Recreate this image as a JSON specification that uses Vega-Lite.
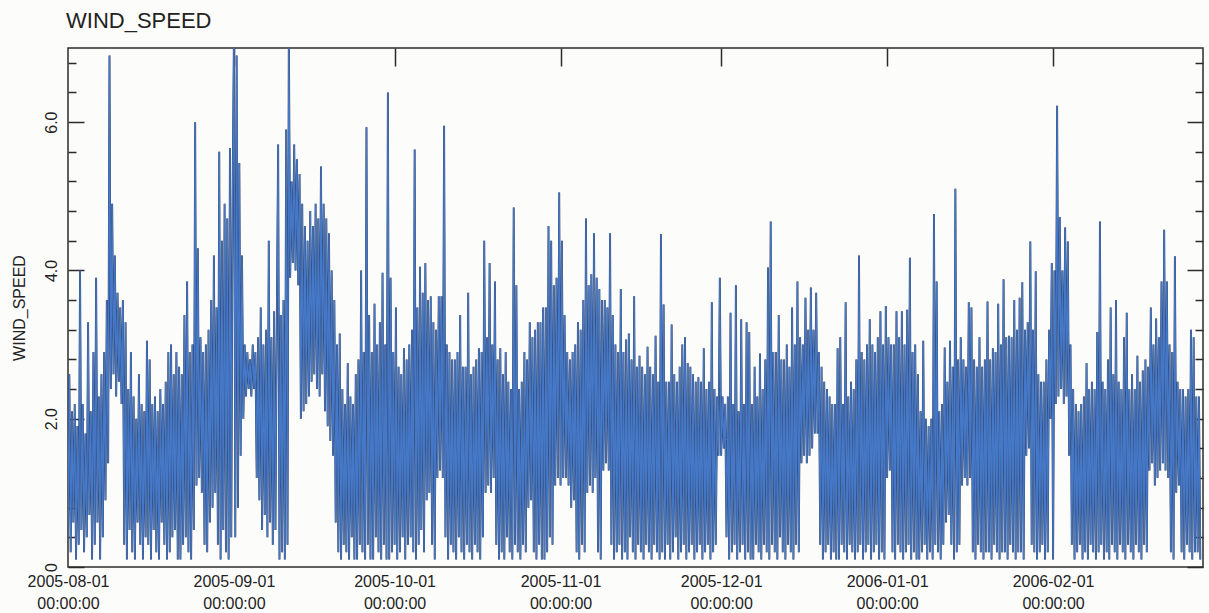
{
"$schema":"https://vega.github.io/schema/vega-lite/v6.json",
"width":1135,"height":519,
"autosize":{"type":"none"},
"padding":{"left":68,"top":48,"right":6,"bottom":46},
"background":"#fcfcfb",
"config":{"font":"Liberation Sans","view":{"stroke":"#2b2b2b","strokeWidth":1.5},"axis":{"domain":false,"grid":false}},
"title":{"text":"WIND_SPEED","anchor":"start","frame":"group","fontSize":22,"fontWeight":"normal","color":"#222222","offset":14,"dx":-2},
"data":{"format":{"parse":{"t":"date:'%Y-%m-%d %H'"}},"values":[
{"t":"2005-08-01 00","v":0.4},{"t":"2005-08-01 06","v":2.6},{"t":"2005-08-01 12","v":0.2},{"t":"2005-08-01 18","v":2.1},
{"t":"2005-08-02 00","v":0.6},{"t":"2005-08-02 06","v":2.2},{"t":"2005-08-02 12","v":0.1},{"t":"2005-08-02 18","v":1.9},
{"t":"2005-08-03 00","v":0.3},{"t":"2005-08-03 06","v":4.0},{"t":"2005-08-03 12","v":0.5},{"t":"2005-08-03 18","v":2.2},
{"t":"2005-08-04 00","v":0.2},{"t":"2005-08-04 06","v":1.8},{"t":"2005-08-04 12","v":0.4},{"t":"2005-08-04 18","v":3.3},
{"t":"2005-08-05 00","v":0.7},{"t":"2005-08-05 06","v":2.1},{"t":"2005-08-05 12","v":0.1},{"t":"2005-08-05 18","v":2.9},
{"t":"2005-08-06 00","v":0.3},{"t":"2005-08-06 06","v":3.9},{"t":"2005-08-06 12","v":0.6},{"t":"2005-08-06 18","v":2.3},
{"t":"2005-08-07 00","v":0.1},{"t":"2005-08-07 06","v":2.6},{"t":"2005-08-07 12","v":0.4},{"t":"2005-08-07 18","v":2.9},
{"t":"2005-08-08 00","v":0.9},{"t":"2005-08-08 06","v":3.6},{"t":"2005-08-08 12","v":1.4},{"t":"2005-08-08 18","v":6.9},
{"t":"2005-08-09 00","v":2.4},{"t":"2005-08-09 06","v":4.9},{"t":"2005-08-09 12","v":2.6},{"t":"2005-08-09 18","v":4.2},
{"t":"2005-08-10 00","v":2.3},{"t":"2005-08-10 06","v":3.7},{"t":"2005-08-10 12","v":2.5},{"t":"2005-08-10 18","v":3.5},
{"t":"2005-08-11 00","v":2.2},{"t":"2005-08-11 06","v":3.6},{"t":"2005-08-11 12","v":0.3},{"t":"2005-08-11 18","v":3.3},
{"t":"2005-08-12 00","v":0.1},{"t":"2005-08-12 06","v":2.4},{"t":"2005-08-12 12","v":0.5},{"t":"2005-08-12 18","v":2.9},
{"t":"2005-08-13 00","v":0.2},{"t":"2005-08-13 06","v":2.3},{"t":"2005-08-13 12","v":0.1},{"t":"2005-08-13 18","v":2.0},
{"t":"2005-08-14 00","v":0.6},{"t":"2005-08-14 06","v":2.6},{"t":"2005-08-14 12","v":0.3},{"t":"2005-08-14 18","v":2.2},
{"t":"2005-08-15 00","v":0.1},{"t":"2005-08-15 06","v":2.1},{"t":"2005-08-15 12","v":0.4},{"t":"2005-08-15 18","v":3.05},
{"t":"2005-08-16 00","v":0.3},{"t":"2005-08-16 06","v":2.8},{"t":"2005-08-16 12","v":0.1},{"t":"2005-08-16 18","v":2.2},
{"t":"2005-08-17 00","v":0.5},{"t":"2005-08-17 06","v":2.3},{"t":"2005-08-17 12","v":0.2},{"t":"2005-08-17 18","v":2.1},
{"t":"2005-08-18 00","v":0.1},{"t":"2005-08-18 06","v":2.4},{"t":"2005-08-18 12","v":0.6},{"t":"2005-08-18 18","v":2.2},
{"t":"2005-08-19 00","v":0.3},{"t":"2005-08-19 06","v":2.5},{"t":"2005-08-19 12","v":0.1},{"t":"2005-08-19 18","v":2.9},
{"t":"2005-08-20 00","v":0.2},{"t":"2005-08-20 06","v":3.0},{"t":"2005-08-20 12","v":0.4},{"t":"2005-08-20 18","v":2.6},
{"t":"2005-08-21 00","v":0.5},{"t":"2005-08-21 06","v":2.9},{"t":"2005-08-21 12","v":0.1},{"t":"2005-08-21 18","v":2.7},
{"t":"2005-08-22 00","v":0.1},{"t":"2005-08-22 06","v":2.6},{"t":"2005-08-22 12","v":0.3},{"t":"2005-08-22 18","v":3.4},
{"t":"2005-08-23 00","v":0.4},{"t":"2005-08-23 06","v":3.85},{"t":"2005-08-23 12","v":0.2},{"t":"2005-08-23 18","v":2.9},
{"t":"2005-08-24 00","v":0.1},{"t":"2005-08-24 06","v":3.0},{"t":"2005-08-24 12","v":0.5},{"t":"2005-08-24 18","v":6.0},
{"t":"2005-08-25 00","v":1.1},{"t":"2005-08-25 06","v":4.3},{"t":"2005-08-25 12","v":1.2},{"t":"2005-08-25 18","v":3.1},
{"t":"2005-08-26 00","v":1.0},{"t":"2005-08-26 06","v":2.9},{"t":"2005-08-26 12","v":0.3},{"t":"2005-08-26 18","v":3.0},
{"t":"2005-08-27 00","v":0.2},{"t":"2005-08-27 06","v":3.2},{"t":"2005-08-27 12","v":0.6},{"t":"2005-08-27 18","v":3.6},
{"t":"2005-08-28 00","v":0.8},{"t":"2005-08-28 06","v":4.2},{"t":"2005-08-28 12","v":1.0},{"t":"2005-08-28 18","v":3.5},
{"t":"2005-08-29 00","v":0.3},{"t":"2005-08-29 06","v":5.6},{"t":"2005-08-29 12","v":0.1},{"t":"2005-08-29 18","v":4.4},
{"t":"2005-08-30 00","v":0.5},{"t":"2005-08-30 06","v":4.9},{"t":"2005-08-30 12","v":0.2},{"t":"2005-08-30 18","v":4.7},
{"t":"2005-08-31 00","v":0.1},{"t":"2005-08-31 06","v":5.65},{"t":"2005-08-31 12","v":0.4},{"t":"2005-08-31 18","v":5.1},
{"t":"2005-09-01 00","v":7.2},{"t":"2005-09-01 06","v":0.4},{"t":"2005-09-01 12","v":6.9},{"t":"2005-09-01 18","v":0.8},
{"t":"2005-09-02 00","v":5.45},{"t":"2005-09-02 06","v":1.5},{"t":"2005-09-02 12","v":4.2},{"t":"2005-09-02 18","v":2.0},
{"t":"2005-09-03 00","v":3.0},{"t":"2005-09-03 06","v":2.3},{"t":"2005-09-03 12","v":2.9},{"t":"2005-09-03 18","v":2.4},
{"t":"2005-09-04 00","v":2.8},{"t":"2005-09-04 06","v":2.3},{"t":"2005-09-04 12","v":3.0},{"t":"2005-09-04 18","v":2.4},
{"t":"2005-09-05 00","v":2.9},{"t":"2005-09-05 06","v":1.2},{"t":"2005-09-05 12","v":3.1},{"t":"2005-09-05 18","v":0.9},
{"t":"2005-09-06 00","v":3.5},{"t":"2005-09-06 06","v":0.5},{"t":"2005-09-06 12","v":3.0},{"t":"2005-09-06 18","v":0.7},
{"t":"2005-09-07 00","v":3.2},{"t":"2005-09-07 06","v":0.4},{"t":"2005-09-07 12","v":4.4},{"t":"2005-09-07 18","v":0.6},
{"t":"2005-09-08 00","v":3.1},{"t":"2005-09-08 06","v":0.3},{"t":"2005-09-08 12","v":3.45},{"t":"2005-09-08 18","v":0.5},
{"t":"2005-09-09 00","v":3.3},{"t":"2005-09-09 06","v":5.7},{"t":"2005-09-09 12","v":0.1},{"t":"2005-09-09 18","v":3.4},
{"t":"2005-09-10 00","v":0.2},{"t":"2005-09-10 06","v":3.6},{"t":"2005-09-10 12","v":0.1},{"t":"2005-09-10 18","v":5.9},
{"t":"2005-09-11 00","v":0.3},{"t":"2005-09-11 06","v":7.2},{"t":"2005-09-11 12","v":3.9},{"t":"2005-09-11 18","v":5.2},
{"t":"2005-09-12 00","v":4.1},{"t":"2005-09-12 06","v":5.7},{"t":"2005-09-12 12","v":4.0},{"t":"2005-09-12 18","v":5.5},
{"t":"2005-09-13 00","v":3.8},{"t":"2005-09-13 06","v":5.3},{"t":"2005-09-13 12","v":2.0},{"t":"2005-09-13 18","v":4.9},
{"t":"2005-09-14 00","v":2.1},{"t":"2005-09-14 06","v":4.6},{"t":"2005-09-14 12","v":2.2},{"t":"2005-09-14 18","v":4.4},
{"t":"2005-09-15 00","v":2.3},{"t":"2005-09-15 06","v":4.8},{"t":"2005-09-15 12","v":2.5},{"t":"2005-09-15 18","v":4.6},
{"t":"2005-09-16 00","v":2.6},{"t":"2005-09-16 06","v":4.9},{"t":"2005-09-16 12","v":2.4},{"t":"2005-09-16 18","v":4.7},
{"t":"2005-09-17 00","v":2.3},{"t":"2005-09-17 06","v":5.4},{"t":"2005-09-17 12","v":2.6},{"t":"2005-09-17 18","v":4.9},
{"t":"2005-09-18 00","v":2.1},{"t":"2005-09-18 06","v":4.7},{"t":"2005-09-18 12","v":1.9},{"t":"2005-09-18 18","v":4.5},
{"t":"2005-09-19 00","v":1.7},{"t":"2005-09-19 06","v":4.0},{"t":"2005-09-19 12","v":1.5},{"t":"2005-09-19 18","v":3.6},
{"t":"2005-09-20 00","v":0.6},{"t":"2005-09-20 06","v":3.0},{"t":"2005-09-20 12","v":0.2},{"t":"2005-09-20 18","v":3.15},
{"t":"2005-09-21 00","v":0.1},{"t":"2005-09-21 06","v":2.4},{"t":"2005-09-21 12","v":0.3},{"t":"2005-09-21 18","v":2.2},
{"t":"2005-09-22 00","v":0.2},{"t":"2005-09-22 06","v":2.75},{"t":"2005-09-22 12","v":0.1},{"t":"2005-09-22 18","v":2.3},
{"t":"2005-09-23 00","v":0.4},{"t":"2005-09-23 06","v":2.2},{"t":"2005-09-23 12","v":0.1},{"t":"2005-09-23 18","v":2.6},
{"t":"2005-09-24 00","v":0.1},{"t":"2005-09-24 06","v":2.8},{"t":"2005-09-24 12","v":0.3},{"t":"2005-09-24 18","v":4.0},
{"t":"2005-09-25 00","v":0.2},{"t":"2005-09-25 06","v":2.9},{"t":"2005-09-25 12","v":0.1},{"t":"2005-09-25 18","v":5.93},
{"t":"2005-09-26 00","v":0.3},{"t":"2005-09-26 06","v":3.4},{"t":"2005-09-26 12","v":0.1},{"t":"2005-09-26 18","v":2.9},
{"t":"2005-09-27 00","v":0.1},{"t":"2005-09-27 06","v":3.55},{"t":"2005-09-27 12","v":0.4},{"t":"2005-09-27 18","v":3.0},
{"t":"2005-09-28 00","v":0.2},{"t":"2005-09-28 06","v":3.3},{"t":"2005-09-28 12","v":0.1},{"t":"2005-09-28 18","v":3.97},
{"t":"2005-09-29 00","v":0.3},{"t":"2005-09-29 06","v":3.0},{"t":"2005-09-29 12","v":0.1},{"t":"2005-09-29 18","v":6.4},
{"t":"2005-09-30 00","v":0.1},{"t":"2005-09-30 06","v":3.9},{"t":"2005-09-30 12","v":0.2},{"t":"2005-09-30 18","v":2.9},
{"t":"2005-10-01 00","v":0.3},{"t":"2005-10-01 06","v":3.5},{"t":"2005-10-01 12","v":0.1},{"t":"2005-10-01 18","v":2.7},
{"t":"2005-10-02 00","v":0.2},{"t":"2005-10-02 06","v":2.6},{"t":"2005-10-02 12","v":0.4},{"t":"2005-10-02 18","v":2.95},
{"t":"2005-10-03 00","v":0.1},{"t":"2005-10-03 06","v":2.8},{"t":"2005-10-03 12","v":0.3},{"t":"2005-10-03 18","v":3.0},
{"t":"2005-10-04 00","v":0.4},{"t":"2005-10-04 06","v":3.2},{"t":"2005-10-04 12","v":0.2},{"t":"2005-10-04 18","v":5.63},
{"t":"2005-10-05 00","v":0.1},{"t":"2005-10-05 06","v":3.5},{"t":"2005-10-05 12","v":0.3},{"t":"2005-10-05 18","v":4.05},
{"t":"2005-10-06 00","v":0.5},{"t":"2005-10-06 06","v":3.7},{"t":"2005-10-06 12","v":0.2},{"t":"2005-10-06 18","v":4.1},
{"t":"2005-10-07 00","v":0.9},{"t":"2005-10-07 06","v":3.6},{"t":"2005-10-07 12","v":1.0},{"t":"2005-10-07 18","v":3.65},
{"t":"2005-10-08 00","v":0.3},{"t":"2005-10-08 06","v":3.3},{"t":"2005-10-08 12","v":0.1},{"t":"2005-10-08 18","v":3.2},
{"t":"2005-10-09 00","v":1.2},{"t":"2005-10-09 06","v":3.65},{"t":"2005-10-09 12","v":1.3},{"t":"2005-10-09 18","v":3.65},
{"t":"2005-10-10 00","v":1.2},{"t":"2005-10-10 06","v":5.95},{"t":"2005-10-10 12","v":0.4},{"t":"2005-10-10 18","v":3.0},
{"t":"2005-10-11 00","v":0.1},{"t":"2005-10-11 06","v":2.9},{"t":"2005-10-11 12","v":0.3},{"t":"2005-10-11 18","v":2.8},
{"t":"2005-10-12 00","v":0.2},{"t":"2005-10-12 06","v":2.8},{"t":"2005-10-12 12","v":0.1},{"t":"2005-10-12 18","v":2.9},
{"t":"2005-10-13 00","v":0.4},{"t":"2005-10-13 06","v":3.4},{"t":"2005-10-13 12","v":0.2},{"t":"2005-10-13 18","v":2.7},
{"t":"2005-10-14 00","v":0.1},{"t":"2005-10-14 06","v":2.7},{"t":"2005-10-14 12","v":0.3},{"t":"2005-10-14 18","v":3.7},
{"t":"2005-10-15 00","v":0.2},{"t":"2005-10-15 06","v":2.6},{"t":"2005-10-15 12","v":0.1},{"t":"2005-10-15 18","v":2.7},
{"t":"2005-10-16 00","v":0.3},{"t":"2005-10-16 06","v":2.8},{"t":"2005-10-16 12","v":0.2},{"t":"2005-10-16 18","v":2.95},
{"t":"2005-10-17 00","v":0.1},{"t":"2005-10-17 06","v":2.9},{"t":"2005-10-17 12","v":0.4},{"t":"2005-10-17 18","v":4.4},
{"t":"2005-10-18 00","v":1.0},{"t":"2005-10-18 06","v":3.1},{"t":"2005-10-18 12","v":1.1},{"t":"2005-10-18 18","v":4.1},
{"t":"2005-10-19 00","v":1.0},{"t":"2005-10-19 06","v":3.0},{"t":"2005-10-19 12","v":1.2},{"t":"2005-10-19 18","v":3.85},
{"t":"2005-10-20 00","v":0.3},{"t":"2005-10-20 06","v":2.8},{"t":"2005-10-20 12","v":0.1},{"t":"2005-10-20 18","v":2.95},
{"t":"2005-10-21 00","v":0.2},{"t":"2005-10-21 06","v":2.6},{"t":"2005-10-21 12","v":0.1},{"t":"2005-10-21 18","v":2.9},
{"t":"2005-10-22 00","v":0.4},{"t":"2005-10-22 06","v":2.5},{"t":"2005-10-22 12","v":0.2},{"t":"2005-10-22 18","v":2.4},
{"t":"2005-10-23 00","v":0.1},{"t":"2005-10-23 06","v":4.85},{"t":"2005-10-23 12","v":0.3},{"t":"2005-10-23 18","v":3.8},
{"t":"2005-10-24 00","v":0.2},{"t":"2005-10-24 06","v":2.4},{"t":"2005-10-24 12","v":0.1},{"t":"2005-10-24 18","v":2.5},
{"t":"2005-10-25 00","v":0.3},{"t":"2005-10-25 06","v":2.9},{"t":"2005-10-25 12","v":0.2},{"t":"2005-10-25 18","v":2.8},
{"t":"2005-10-26 00","v":0.8},{"t":"2005-10-26 06","v":3.3},{"t":"2005-10-26 12","v":0.9},{"t":"2005-10-26 18","v":3.1},
{"t":"2005-10-27 00","v":0.2},{"t":"2005-10-27 06","v":3.2},{"t":"2005-10-27 12","v":0.1},{"t":"2005-10-27 18","v":3.3},
{"t":"2005-10-28 00","v":0.3},{"t":"2005-10-28 06","v":3.3},{"t":"2005-10-28 12","v":0.1},{"t":"2005-10-28 18","v":3.5},
{"t":"2005-10-29 00","v":0.1},{"t":"2005-10-29 06","v":3.5},{"t":"2005-10-29 12","v":0.2},{"t":"2005-10-29 18","v":4.6},
{"t":"2005-10-30 00","v":0.4},{"t":"2005-10-30 06","v":4.4},{"t":"2005-10-30 12","v":0.3},{"t":"2005-10-30 18","v":3.8},
{"t":"2005-10-31 00","v":1.1},{"t":"2005-10-31 06","v":3.9},{"t":"2005-10-31 12","v":1.2},{"t":"2005-10-31 18","v":5.05},
{"t":"2005-11-01 00","v":1.1},{"t":"2005-11-01 06","v":4.4},{"t":"2005-11-01 12","v":1.2},{"t":"2005-11-01 18","v":3.4},
{"t":"2005-11-02 00","v":1.2},{"t":"2005-11-02 06","v":2.9},{"t":"2005-11-02 12","v":1.1},{"t":"2005-11-02 18","v":2.8},
{"t":"2005-11-03 00","v":0.8},{"t":"2005-11-03 06","v":2.9},{"t":"2005-11-03 12","v":0.9},{"t":"2005-11-03 18","v":3.0},
{"t":"2005-11-04 00","v":0.2},{"t":"2005-11-04 06","v":3.3},{"t":"2005-11-04 12","v":0.1},{"t":"2005-11-04 18","v":3.2},
{"t":"2005-11-05 00","v":0.3},{"t":"2005-11-05 06","v":3.6},{"t":"2005-11-05 12","v":0.2},{"t":"2005-11-05 18","v":4.7},
{"t":"2005-11-06 00","v":1.0},{"t":"2005-11-06 06","v":3.8},{"t":"2005-11-06 12","v":1.1},{"t":"2005-11-06 18","v":3.95},
{"t":"2005-11-07 00","v":1.0},{"t":"2005-11-07 06","v":4.5},{"t":"2005-11-07 12","v":1.2},{"t":"2005-11-07 18","v":3.9},
{"t":"2005-11-08 00","v":0.2},{"t":"2005-11-08 06","v":3.75},{"t":"2005-11-08 12","v":0.1},{"t":"2005-11-08 18","v":3.6},
{"t":"2005-11-09 00","v":1.3},{"t":"2005-11-09 06","v":3.6},{"t":"2005-11-09 12","v":1.4},{"t":"2005-11-09 18","v":3.5},
{"t":"2005-11-10 00","v":1.3},{"t":"2005-11-10 06","v":4.5},{"t":"2005-11-10 12","v":0.3},{"t":"2005-11-10 18","v":3.4},
{"t":"2005-11-11 00","v":0.1},{"t":"2005-11-11 06","v":3.0},{"t":"2005-11-11 12","v":0.2},{"t":"2005-11-11 18","v":2.9},
{"t":"2005-11-12 00","v":0.3},{"t":"2005-11-12 06","v":3.75},{"t":"2005-11-12 12","v":0.1},{"t":"2005-11-12 18","v":2.9},
{"t":"2005-11-13 00","v":0.2},{"t":"2005-11-13 06","v":3.07},{"t":"2005-11-13 12","v":0.1},{"t":"2005-11-13 18","v":3.15},
{"t":"2005-11-14 00","v":0.4},{"t":"2005-11-14 06","v":2.8},{"t":"2005-11-14 12","v":0.2},{"t":"2005-11-14 18","v":3.65},
{"t":"2005-11-15 00","v":0.1},{"t":"2005-11-15 06","v":2.7},{"t":"2005-11-15 12","v":0.3},{"t":"2005-11-15 18","v":2.85},
{"t":"2005-11-16 00","v":0.2},{"t":"2005-11-16 06","v":2.7},{"t":"2005-11-16 12","v":0.1},{"t":"2005-11-16 18","v":2.6},
{"t":"2005-11-17 00","v":0.3},{"t":"2005-11-17 06","v":2.97},{"t":"2005-11-17 12","v":0.2},{"t":"2005-11-17 18","v":2.7},
{"t":"2005-11-18 00","v":0.1},{"t":"2005-11-18 06","v":2.6},{"t":"2005-11-18 12","v":0.3},{"t":"2005-11-18 18","v":3.12},
{"t":"2005-11-19 00","v":0.2},{"t":"2005-11-19 06","v":2.5},{"t":"2005-11-19 12","v":0.1},{"t":"2005-11-19 18","v":4.49},
{"t":"2005-11-20 00","v":0.2},{"t":"2005-11-20 06","v":3.54},{"t":"2005-11-20 12","v":0.1},{"t":"2005-11-20 18","v":2.5},
{"t":"2005-11-21 00","v":0.3},{"t":"2005-11-21 06","v":2.5},{"t":"2005-11-21 12","v":0.1},{"t":"2005-11-21 18","v":3.27},
{"t":"2005-11-22 00","v":0.2},{"t":"2005-11-22 06","v":2.6},{"t":"2005-11-22 12","v":0.4},{"t":"2005-11-22 18","v":2.5},
{"t":"2005-11-23 00","v":0.1},{"t":"2005-11-23 06","v":2.7},{"t":"2005-11-23 12","v":0.2},{"t":"2005-11-23 18","v":3.0},
{"t":"2005-11-24 00","v":0.3},{"t":"2005-11-24 06","v":3.1},{"t":"2005-11-24 12","v":0.1},{"t":"2005-11-24 18","v":2.75},
{"t":"2005-11-25 00","v":0.2},{"t":"2005-11-25 06","v":2.7},{"t":"2005-11-25 12","v":0.3},{"t":"2005-11-25 18","v":2.6},
{"t":"2005-11-26 00","v":0.1},{"t":"2005-11-26 06","v":2.5},{"t":"2005-11-26 12","v":0.2},{"t":"2005-11-26 18","v":2.56},
{"t":"2005-11-27 00","v":0.3},{"t":"2005-11-27 06","v":2.5},{"t":"2005-11-27 12","v":0.1},{"t":"2005-11-27 18","v":2.95},
{"t":"2005-11-28 00","v":0.2},{"t":"2005-11-28 06","v":2.4},{"t":"2005-11-28 12","v":0.3},{"t":"2005-11-28 18","v":2.5},
{"t":"2005-11-29 00","v":0.1},{"t":"2005-11-29 06","v":3.57},{"t":"2005-11-29 12","v":0.2},{"t":"2005-11-29 18","v":2.4},
{"t":"2005-11-30 00","v":0.3},{"t":"2005-11-30 06","v":2.3},{"t":"2005-11-30 12","v":1.5},{"t":"2005-11-30 18","v":3.9},
{"t":"2005-12-01 00","v":1.5},{"t":"2005-12-01 06","v":2.3},{"t":"2005-12-01 12","v":1.6},{"t":"2005-12-01 18","v":2.2},
{"t":"2005-12-02 00","v":0.4},{"t":"2005-12-02 06","v":2.3},{"t":"2005-12-02 12","v":0.1},{"t":"2005-12-02 18","v":3.43},
{"t":"2005-12-03 00","v":0.2},{"t":"2005-12-03 06","v":2.2},{"t":"2005-12-03 12","v":0.3},{"t":"2005-12-03 18","v":3.8},
{"t":"2005-12-04 00","v":0.1},{"t":"2005-12-04 06","v":2.1},{"t":"2005-12-04 12","v":0.2},{"t":"2005-12-04 18","v":3.34},
{"t":"2005-12-05 00","v":0.3},{"t":"2005-12-05 06","v":2.2},{"t":"2005-12-05 12","v":0.1},{"t":"2005-12-05 18","v":3.3},
{"t":"2005-12-06 00","v":0.2},{"t":"2005-12-06 06","v":3.17},{"t":"2005-12-06 12","v":0.1},{"t":"2005-12-06 18","v":2.2},
{"t":"2005-12-07 00","v":0.1},{"t":"2005-12-07 06","v":2.7},{"t":"2005-12-07 12","v":0.3},{"t":"2005-12-07 18","v":2.3},
{"t":"2005-12-08 00","v":0.2},{"t":"2005-12-08 06","v":2.88},{"t":"2005-12-08 12","v":0.1},{"t":"2005-12-08 18","v":2.4},
{"t":"2005-12-09 00","v":0.3},{"t":"2005-12-09 06","v":2.8},{"t":"2005-12-09 12","v":0.2},{"t":"2005-12-09 18","v":4.04},
{"t":"2005-12-10 00","v":0.1},{"t":"2005-12-10 06","v":4.66},{"t":"2005-12-10 12","v":0.3},{"t":"2005-12-10 18","v":2.9},
{"t":"2005-12-11 00","v":0.2},{"t":"2005-12-11 06","v":2.9},{"t":"2005-12-11 12","v":0.1},{"t":"2005-12-11 18","v":3.4},
{"t":"2005-12-12 00","v":0.4},{"t":"2005-12-12 06","v":2.8},{"t":"2005-12-12 12","v":0.2},{"t":"2005-12-12 18","v":2.8},
{"t":"2005-12-13 00","v":0.1},{"t":"2005-12-13 06","v":3.0},{"t":"2005-12-13 12","v":0.3},{"t":"2005-12-13 18","v":2.7},
{"t":"2005-12-14 00","v":0.2},{"t":"2005-12-14 06","v":3.5},{"t":"2005-12-14 12","v":0.1},{"t":"2005-12-14 18","v":3.0},
{"t":"2005-12-15 00","v":0.3},{"t":"2005-12-15 06","v":3.85},{"t":"2005-12-15 12","v":0.2},{"t":"2005-12-15 18","v":3.1},
{"t":"2005-12-16 00","v":1.4},{"t":"2005-12-16 06","v":3.0},{"t":"2005-12-16 12","v":1.5},{"t":"2005-12-16 18","v":3.63},
{"t":"2005-12-17 00","v":1.4},{"t":"2005-12-17 06","v":3.2},{"t":"2005-12-17 12","v":1.5},{"t":"2005-12-17 18","v":3.77},
{"t":"2005-12-18 00","v":1.6},{"t":"2005-12-18 06","v":3.2},{"t":"2005-12-18 12","v":1.8},{"t":"2005-12-18 18","v":3.7},
{"t":"2005-12-19 00","v":1.8},{"t":"2005-12-19 06","v":2.9},{"t":"2005-12-19 12","v":0.3},{"t":"2005-12-19 18","v":2.7},
{"t":"2005-12-20 00","v":0.1},{"t":"2005-12-20 06","v":2.5},{"t":"2005-12-20 12","v":0.2},{"t":"2005-12-20 18","v":2.4},
{"t":"2005-12-21 00","v":0.3},{"t":"2005-12-21 06","v":2.3},{"t":"2005-12-21 12","v":0.1},{"t":"2005-12-21 18","v":2.2},
{"t":"2005-12-22 00","v":0.2},{"t":"2005-12-22 06","v":2.2},{"t":"2005-12-22 12","v":0.1},{"t":"2005-12-22 18","v":2.95},
{"t":"2005-12-23 00","v":0.1},{"t":"2005-12-23 06","v":3.1},{"t":"2005-12-23 12","v":0.3},{"t":"2005-12-23 18","v":2.2},
{"t":"2005-12-24 00","v":0.2},{"t":"2005-12-24 06","v":3.57},{"t":"2005-12-24 12","v":0.1},{"t":"2005-12-24 18","v":2.3},
{"t":"2005-12-25 00","v":0.3},{"t":"2005-12-25 06","v":2.5},{"t":"2005-12-25 12","v":0.2},{"t":"2005-12-25 18","v":2.4},
{"t":"2005-12-26 00","v":0.1},{"t":"2005-12-26 06","v":2.8},{"t":"2005-12-26 12","v":0.2},{"t":"2005-12-26 18","v":4.2},
{"t":"2005-12-27 00","v":0.3},{"t":"2005-12-27 06","v":2.9},{"t":"2005-12-27 12","v":0.1},{"t":"2005-12-27 18","v":2.8},
{"t":"2005-12-28 00","v":0.2},{"t":"2005-12-28 06","v":3.0},{"t":"2005-12-28 12","v":0.3},{"t":"2005-12-28 18","v":3.34},
{"t":"2005-12-29 00","v":0.1},{"t":"2005-12-29 06","v":3.0},{"t":"2005-12-29 12","v":0.2},{"t":"2005-12-29 18","v":2.9},
{"t":"2005-12-30 00","v":0.3},{"t":"2005-12-30 06","v":3.1},{"t":"2005-12-30 12","v":0.1},{"t":"2005-12-30 18","v":3.45},
{"t":"2005-12-31 00","v":0.2},{"t":"2005-12-31 06","v":3.0},{"t":"2005-12-31 12","v":0.1},{"t":"2005-12-31 18","v":3.52},
{"t":"2006-01-01 00","v":1.2},{"t":"2006-01-01 06","v":3.1},{"t":"2006-01-01 12","v":1.3},{"t":"2006-01-01 18","v":3.0},
{"t":"2006-01-02 00","v":0.2},{"t":"2006-01-02 06","v":3.0},{"t":"2006-01-02 12","v":0.1},{"t":"2006-01-02 18","v":3.45},
{"t":"2006-01-03 00","v":0.3},{"t":"2006-01-03 06","v":3.1},{"t":"2006-01-03 12","v":0.2},{"t":"2006-01-03 18","v":3.45},
{"t":"2006-01-04 00","v":0.1},{"t":"2006-01-04 06","v":3.0},{"t":"2006-01-04 12","v":0.2},{"t":"2006-01-04 18","v":3.47},
{"t":"2006-01-05 00","v":0.3},{"t":"2006-01-05 06","v":4.17},{"t":"2006-01-05 12","v":0.1},{"t":"2006-01-05 18","v":2.9},
{"t":"2006-01-06 00","v":0.2},{"t":"2006-01-06 06","v":3.0},{"t":"2006-01-06 12","v":0.1},{"t":"2006-01-06 18","v":2.6},
{"t":"2006-01-07 00","v":0.1},{"t":"2006-01-07 06","v":2.1},{"t":"2006-01-07 12","v":0.2},{"t":"2006-01-07 18","v":3.05},
{"t":"2006-01-08 00","v":0.3},{"t":"2006-01-08 06","v":2.0},{"t":"2006-01-08 12","v":0.1},{"t":"2006-01-08 18","v":1.9},
{"t":"2006-01-09 00","v":0.2},{"t":"2006-01-09 06","v":2.0},{"t":"2006-01-09 12","v":0.1},{"t":"2006-01-09 18","v":4.76},
{"t":"2006-01-10 00","v":0.3},{"t":"2006-01-10 06","v":3.85},{"t":"2006-01-10 12","v":0.2},{"t":"2006-01-10 18","v":2.1},
{"t":"2006-01-11 00","v":0.1},{"t":"2006-01-11 06","v":2.2},{"t":"2006-01-11 12","v":0.3},{"t":"2006-01-11 18","v":2.96},
{"t":"2006-01-12 00","v":0.6},{"t":"2006-01-12 06","v":2.5},{"t":"2006-01-12 12","v":0.7},{"t":"2006-01-12 18","v":3.05},
{"t":"2006-01-13 00","v":0.3},{"t":"2006-01-13 06","v":2.7},{"t":"2006-01-13 12","v":0.1},{"t":"2006-01-13 18","v":5.1},
{"t":"2006-01-14 00","v":0.2},{"t":"2006-01-14 06","v":2.8},{"t":"2006-01-14 12","v":0.3},{"t":"2006-01-14 18","v":3.1},
{"t":"2006-01-15 00","v":1.1},{"t":"2006-01-15 06","v":2.8},{"t":"2006-01-15 12","v":1.2},{"t":"2006-01-15 18","v":2.7},
{"t":"2006-01-16 00","v":1.1},{"t":"2006-01-16 06","v":3.57},{"t":"2006-01-16 12","v":1.2},{"t":"2006-01-16 18","v":3.5},
{"t":"2006-01-17 00","v":0.2},{"t":"2006-01-17 06","v":2.8},{"t":"2006-01-17 12","v":0.1},{"t":"2006-01-17 18","v":2.7},
{"t":"2006-01-18 00","v":0.3},{"t":"2006-01-18 06","v":3.1},{"t":"2006-01-18 12","v":0.2},{"t":"2006-01-18 18","v":2.7},
{"t":"2006-01-19 00","v":0.1},{"t":"2006-01-19 06","v":2.8},{"t":"2006-01-19 12","v":0.2},{"t":"2006-01-19 18","v":3.58},
{"t":"2006-01-20 00","v":0.2},{"t":"2006-01-20 06","v":2.8},{"t":"2006-01-20 12","v":0.1},{"t":"2006-01-20 18","v":2.95},
{"t":"2006-01-21 00","v":0.3},{"t":"2006-01-21 06","v":2.9},{"t":"2006-01-21 12","v":0.2},{"t":"2006-01-21 18","v":3.55},
{"t":"2006-01-22 00","v":0.1},{"t":"2006-01-22 06","v":3.0},{"t":"2006-01-22 12","v":0.2},{"t":"2006-01-22 18","v":3.88},
{"t":"2006-01-23 00","v":0.2},{"t":"2006-01-23 06","v":3.1},{"t":"2006-01-23 12","v":0.1},{"t":"2006-01-23 18","v":3.12},
{"t":"2006-01-24 00","v":0.3},{"t":"2006-01-24 06","v":3.1},{"t":"2006-01-24 12","v":0.2},{"t":"2006-01-24 18","v":3.6},
{"t":"2006-01-25 00","v":0.1},{"t":"2006-01-25 06","v":3.2},{"t":"2006-01-25 12","v":0.2},{"t":"2006-01-25 18","v":3.63},
{"t":"2006-01-26 00","v":0.2},{"t":"2006-01-26 06","v":3.84},{"t":"2006-01-26 12","v":0.1},{"t":"2006-01-26 18","v":3.2},
{"t":"2006-01-27 00","v":1.5},{"t":"2006-01-27 06","v":3.3},{"t":"2006-01-27 12","v":1.6},{"t":"2006-01-27 18","v":4.39},
{"t":"2006-01-28 00","v":0.3},{"t":"2006-01-28 06","v":3.2},{"t":"2006-01-28 12","v":0.2},{"t":"2006-01-28 18","v":3.99},
{"t":"2006-01-29 00","v":0.1},{"t":"2006-01-29 06","v":2.6},{"t":"2006-01-29 12","v":0.2},{"t":"2006-01-29 18","v":2.5},
{"t":"2006-01-30 00","v":0.3},{"t":"2006-01-30 06","v":2.5},{"t":"2006-01-30 12","v":0.1},{"t":"2006-01-30 18","v":2.8},
{"t":"2006-01-31 00","v":0.2},{"t":"2006-01-31 06","v":3.2},{"t":"2006-01-31 12","v":2.0},{"t":"2006-01-31 18","v":4.1},
{"t":"2006-02-01 00","v":0.1},{"t":"2006-02-01 06","v":4.0},{"t":"2006-02-01 12","v":2.2},{"t":"2006-02-01 18","v":6.22},
{"t":"2006-02-02 00","v":2.3},{"t":"2006-02-02 06","v":4.72},{"t":"2006-02-02 12","v":2.4},{"t":"2006-02-02 18","v":4.0},
{"t":"2006-02-03 00","v":2.2},{"t":"2006-02-03 06","v":4.58},{"t":"2006-02-03 12","v":2.3},{"t":"2006-02-03 18","v":4.39},
{"t":"2006-02-04 00","v":1.5},{"t":"2006-02-04 06","v":3.0},{"t":"2006-02-04 12","v":0.3},{"t":"2006-02-04 18","v":2.4},
{"t":"2006-02-05 00","v":0.1},{"t":"2006-02-05 06","v":2.2},{"t":"2006-02-05 12","v":0.2},{"t":"2006-02-05 18","v":2.1},
{"t":"2006-02-06 00","v":0.3},{"t":"2006-02-06 06","v":2.2},{"t":"2006-02-06 12","v":0.1},{"t":"2006-02-06 18","v":2.3},
{"t":"2006-02-07 00","v":0.2},{"t":"2006-02-07 06","v":2.75},{"t":"2006-02-07 12","v":0.1},{"t":"2006-02-07 18","v":2.4},
{"t":"2006-02-08 00","v":0.3},{"t":"2006-02-08 06","v":2.5},{"t":"2006-02-08 12","v":0.2},{"t":"2006-02-08 18","v":2.4},
{"t":"2006-02-09 00","v":0.1},{"t":"2006-02-09 06","v":3.17},{"t":"2006-02-09 12","v":0.2},{"t":"2006-02-09 18","v":4.66},
{"t":"2006-02-10 00","v":0.3},{"t":"2006-02-10 06","v":2.5},{"t":"2006-02-10 12","v":0.1},{"t":"2006-02-10 18","v":2.4},
{"t":"2006-02-11 00","v":0.2},{"t":"2006-02-11 06","v":2.8},{"t":"2006-02-11 12","v":0.1},{"t":"2006-02-11 18","v":3.5},
{"t":"2006-02-12 00","v":0.3},{"t":"2006-02-12 06","v":2.6},{"t":"2006-02-12 12","v":0.2},{"t":"2006-02-12 18","v":3.6},
{"t":"2006-02-13 00","v":0.1},{"t":"2006-02-13 06","v":2.5},{"t":"2006-02-13 12","v":0.3},{"t":"2006-02-13 18","v":2.4},
{"t":"2006-02-14 00","v":0.2},{"t":"2006-02-14 06","v":3.1},{"t":"2006-02-14 12","v":0.1},{"t":"2006-02-14 18","v":3.43},
{"t":"2006-02-15 00","v":0.3},{"t":"2006-02-15 06","v":2.4},{"t":"2006-02-15 12","v":0.2},{"t":"2006-02-15 18","v":2.6},
{"t":"2006-02-16 00","v":0.1},{"t":"2006-02-16 06","v":2.4},{"t":"2006-02-16 12","v":0.3},{"t":"2006-02-16 18","v":2.85},
{"t":"2006-02-17 00","v":0.2},{"t":"2006-02-17 06","v":2.5},{"t":"2006-02-17 12","v":0.1},{"t":"2006-02-17 18","v":2.65},
{"t":"2006-02-18 00","v":0.3},{"t":"2006-02-18 06","v":2.8},{"t":"2006-02-18 12","v":0.2},{"t":"2006-02-18 18","v":2.7},
{"t":"2006-02-19 00","v":1.3},{"t":"2006-02-19 06","v":3.5},{"t":"2006-02-19 12","v":1.4},{"t":"2006-02-19 18","v":3.0},
{"t":"2006-02-20 00","v":1.1},{"t":"2006-02-20 06","v":3.35},{"t":"2006-02-20 12","v":1.2},{"t":"2006-02-20 18","v":3.1},
{"t":"2006-02-21 00","v":1.3},{"t":"2006-02-21 06","v":3.85},{"t":"2006-02-21 12","v":1.4},{"t":"2006-02-21 18","v":4.55},
{"t":"2006-02-22 00","v":1.3},{"t":"2006-02-22 06","v":3.85},{"t":"2006-02-22 12","v":1.2},{"t":"2006-02-22 18","v":3.0},
{"t":"2006-02-23 00","v":0.2},{"t":"2006-02-23 06","v":2.9},{"t":"2006-02-23 12","v":0.1},{"t":"2006-02-23 18","v":4.19},
{"t":"2006-02-24 00","v":1.0},{"t":"2006-02-24 06","v":2.5},{"t":"2006-02-24 12","v":1.1},{"t":"2006-02-24 18","v":2.4},
{"t":"2006-02-25 00","v":0.2},{"t":"2006-02-25 06","v":2.4},{"t":"2006-02-25 12","v":0.1},{"t":"2006-02-25 18","v":2.3},
{"t":"2006-02-26 00","v":0.3},{"t":"2006-02-26 06","v":2.4},{"t":"2006-02-26 12","v":0.2},{"t":"2006-02-26 18","v":3.2},
{"t":"2006-02-27 00","v":0.1},{"t":"2006-02-27 06","v":3.1},{"t":"2006-02-27 12","v":0.2},{"t":"2006-02-27 18","v":2.3},
{"t":"2006-02-28 00","v":0.2},{"t":"2006-02-28 06","v":2.3},{"t":"2006-02-28 12","v":0.1}
]},
"layer":[
{"mark":{"type":"line","color":"#2e3a54","strokeWidth":1.9,"clip":true},
"encoding":{
"x":{"field":"t","type":"temporal","scale":{"domain":[{"year":2005,"month":8,"date":1},{"year":2006,"month":3,"date":1}]},"axis":null},
"y":{"field":"v","type":"quantitative","scale":{"domain":[0,7],"nice":false},"axis":null}}},
{"mark":{"type":"line","color":"#4678c8","strokeWidth":1.3,"clip":true},
"encoding":{
"x":{"field":"t","type":"temporal","scale":{"domain":[{"year":2005,"month":8,"date":1},{"year":2006,"month":3,"date":1}]},
"axis":{"orient":"bottom","title":null,"ticks":false,"values":[{"year":2005,"month":8,"date":1},{"year":2005,"month":9,"date":1},{"year":2005,"month":10,"date":1},{"year":2005,"month":11,"date":1},{"year":2005,"month":12,"date":1},{"year":2006,"month":1,"date":1},{"year":2006,"month":2,"date":1}],
"labelExpr":"[timeFormat(datum.value,'%Y-%m-%d'),'00:00:00']","labelFontSize":16,"labelLineHeight":22,"labelPadding":6,"labelColor":"#222222","labelFlush":false,"labelOverlap":false}},
"y":{"field":"v","type":"quantitative","scale":{"domain":[0,7],"nice":false},
"axis":{"orient":"left","ticks":false,"values":[0,2,4,6],"labelExpr":"datum.value==0?'0':format(datum.value,'.1f')","labelAngle":270,"labelAlign":"center","labelBaseline":"bottom","labelPadding":9,"labelFontSize":16,"labelColor":"#222222",
"title":"WIND_SPEED","titleFontSize":16,"titleFontWeight":"normal","titleColor":"#222222","titleAngle":270,"titleX":-41,"titleY":259.5,"titleAlign":"center","titleBaseline":"bottom"}}}},
{"data":{"values":[{}]},"mark":{"type":"rule","opacity":0},
"encoding":{"y":{"datum":0,"type":"quantitative","scale":{"domain":[0,7],"nice":false},
"axis":{"orient":"left","labels":false,"title":null,"values":[0,0.4,0.8,1.2,1.6,2,2.4,2.8,3.2,3.6,4,4.4,4.8,5.2,5.6,6,6.4,6.8],"tickSize":{"condition":{"test":"datum.value % 2 == 0","value":-16},"value":-8},"tickColor":"#2b2b2b","tickWidth":1.5}}}},
{"data":{"values":[{}]},"mark":{"type":"rule","opacity":0},
"encoding":{"y":{"datum":0,"type":"quantitative","scale":{"domain":[0,7],"nice":false},
"axis":{"orient":"right","labels":false,"title":null,"values":[0,0.4,0.8,1.2,1.6,2,2.4,2.8,3.2,3.6,4,4.4,4.8,5.2,5.6,6,6.4,6.8],"tickSize":{"condition":{"test":"datum.value % 2 == 0","value":-16},"value":-8},"tickColor":"#2b2b2b","tickWidth":1.5}}}},
{"data":{"values":[{}]},"mark":{"type":"rule","opacity":0},
"encoding":{"x":{"datum":{"year":2005,"month":8,"date":1},"type":"temporal","scale":{"domain":[{"year":2005,"month":8,"date":1},{"year":2006,"month":3,"date":1}]},
"axis":{"orient":"top","labels":false,"title":null,"values":[{"year":2005,"month":9,"date":1},{"year":2005,"month":10,"date":1},{"year":2005,"month":11,"date":1},{"year":2005,"month":12,"date":1},{"year":2006,"month":1,"date":1},{"year":2006,"month":2,"date":1}],"tickSize":-18,"tickColor":"#2b2b2b","tickWidth":1.5}}}}
],
"resolve":{"scale":{"x":"independent","y":"independent"},"axis":{"x":"independent","y":"independent"}}
}
